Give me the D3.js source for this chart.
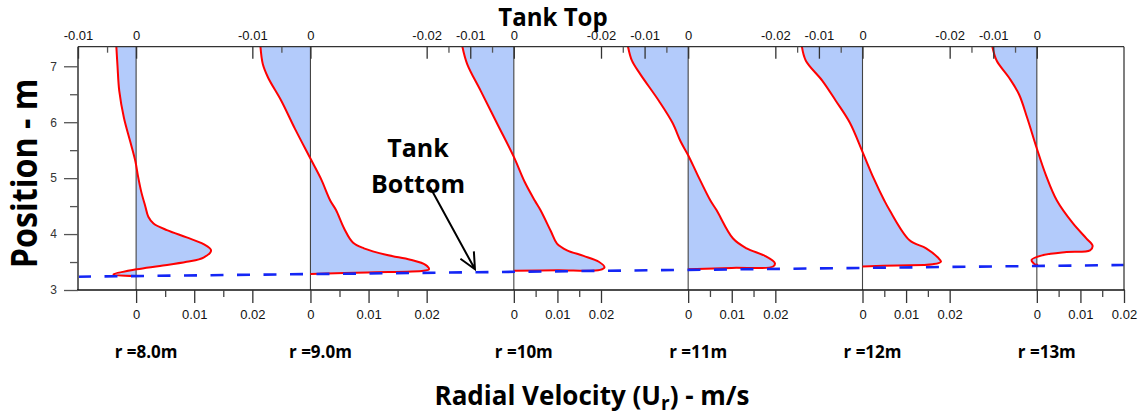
<!DOCTYPE html>
<html>
<head>
<meta charset="utf-8">
<script src="https://cdn.jsdelivr.net/npm/d3@7"></script>
<style>
  html, body { margin: 0; padding: 0; background: #fff; }
  svg { display: block; }
</style>
</head>
<body>
<svg id="chart" width="1139" height="415"></svg>
<script>
// Radial velocity profiles, one per radius: [position (m), Ur (m/s)], tank top to bottom
const profileR8 = [
  [7.35, -0.0034], [7.0, -0.0032], [6.56, -0.0029], [6.08, -0.0021], [5.65, -0.0010],
  [5.29, -0.0001], [5.05, 0.0003], [4.75, 0.0009], [4.49, 0.0016], [4.31, 0.0021],
  [4.19, 0.0030], [4.07, 0.0053], [3.94, 0.0087], [3.82, 0.0116], [3.71, 0.0129],
  [3.58, 0.0116], [3.505, 0.0087], [3.43, 0.0041], [3.37, 0.0001], [3.28, -0.0039],
  [3.25, -0.0002]
];
const profileR9 = [
  [7.35, -0.0086], [7.04, -0.0082], [6.80, -0.0073], [6.38, -0.0050], [5.89, -0.0027],
  [5.35, 0.0000], [4.99, 0.0018], [4.60, 0.0034], [4.43, 0.0044], [4.10, 0.0058],
  [3.85, 0.0073], [3.745, 0.0092], [3.625, 0.0132], [3.54, 0.0172], [3.45, 0.0198],
  [3.37, 0.0204], [3.345, 0.0195], [3.315, 0.0098], [3.285, 0.0000]
];
const profileR10 = [
  [7.35, -0.0118], [7.04, -0.0107], [6.56, -0.0076], [5.955, -0.0037], [5.38, 0.0000],
  [4.93, 0.0025], [4.60, 0.0048], [4.43, 0.0061], [4.05, 0.0085], [3.83, 0.0099],
  [3.71, 0.0122], [3.61, 0.0160], [3.505, 0.0195], [3.405, 0.0208], [3.36, 0.0198],
  [3.352, 0.0100], [3.345, 0.0000]
];
const profileR11 = [
  [7.35, -0.0138], [7.10, -0.0129], [6.86, -0.0110], [6.38, -0.0067], [5.99, -0.0036],
  [5.65, -0.0017], [5.41, 0.0000], [5.05, 0.0022], [4.60, 0.0051], [4.43, 0.0065],
  [3.92, 0.0103], [3.745, 0.0134], [3.61, 0.0176], [3.48, 0.0199], [3.42, 0.0195],
  [3.395, 0.0100], [3.37, 0.0000]
];
const profileR12 = [
  [7.35, -0.0139], [7.10, -0.0130], [6.74, -0.0092], [6.38, -0.0061], [5.99, -0.0029],
  [5.47, 0.0000], [4.99, 0.0026], [4.60, 0.0050], [4.43, 0.0062], [3.89, 0.0108],
  [3.745, 0.0146], [3.58, 0.0173], [3.505, 0.0180], [3.46, 0.0161], [3.44, 0.0080],
  [3.42, 0.0000]
];
const profileR13 = [
  [7.35, -0.0102], [7.10, -0.0092], [6.80, -0.0064], [6.50, -0.0041], [6.075, -0.0022],
  [5.53, 0.0000], [5.05, 0.0021], [4.60, 0.0046], [4.19, 0.0083], [3.92, 0.0114],
  [3.79, 0.0128], [3.71, 0.0122], [3.68, 0.0068], [3.625, 0.0015], [3.54, -0.0012],
  [3.46, -0.0005], [3.45, 0.0003]
];
const profiles = [profileR8, profileR9, profileR10, profileR11, profileR12, profileR13];

const radiusLabels = ["r =8.0m", "r =9.0m", "r =10m", "r =11m", "r =12m", "r =13m"];
// velocity range covered by each radius column
const panelRanges = [[-0.01, 0.02], [-0.01, 0.02], [-0.02, 0.02], [-0.02, 0.02], [-0.02, 0.02], [-0.02, 0.02]];
const topTicks = [-0.02, -0.01, 0];
const topMinorTicks = [-0.015, -0.005];
const bottomTicks = [0, 0.01, 0.02];
const bottomMinorTicks = [0.005, 0.015];
const positionTicks = [3, 4, 5, 6, 7];
const positionMinorTicks = [3.5, 4.5, 5.5, 6.5];
const positionRange = [3, 7.35];
// sloping tank floor: height at the left and right edge of the plot
const tankFloor = [3.238, 3.447];

const svg = d3.select("#chart");
const plotLeft = 78, plotRight = 1124, plotTop = 46.7, plotBottom = 290;
const tickFont = '"Liberation Sans", Arial, sans-serif';
const boldFont = '"Open Sans", "Noto Sans", sans-serif';

const y = d3.scaleLinear().domain(positionRange).range([plotBottom, plotTop]);
// column index scale across the whole plot
const cols = d3.scaleLinear().domain([0, profiles.length]).range([plotLeft, plotRight]);
const xScales = panelRanges.map((r, i) =>
  d3.scaleLinear().domain(r).range([cols(i), cols(i + 1)]));

const plot = svg.append("g");

// shaded profiles
const curveGen = (xs) => d3.line()
  .x(d => xs(d[1]))
  .y(d => y(d[0]))
  .curve(d3.curveCatmullRom.alpha(0.5));

profiles.forEach((p, i) => {
  const xs = xScales[i];
  const first = p[0], last = p[p.length - 1];
  const d = curveGen(xs)(p) +
    "L" + xs(0) + "," + y(last[0]) +
    "L" + xs(0) + "," + y(first[0]) + "Z";
  plot.append("path").attr("d", d)
    .attr("fill", "#b3cbfb").attr("stroke", "none");
});

// zero lines of each column
xScales.forEach(xs => {
  plot.append("line")
    .attr("x1", xs(0)).attr("x2", xs(0))
    .attr("y1", plotTop).attr("y2", plotBottom)
    .attr("stroke", "#444").attr("stroke-width", 1.1);
});

// profile outlines
profiles.forEach((p, i) => {
  plot.append("path").attr("d", curveGen(xScales[i])(p))
    .attr("fill", "none").attr("stroke", "#ff0000")
    .attr("stroke-width", 2).attr("stroke-linejoin", "round");
});

// tank floor
plot.append("line")
  .attr("x1", cols(0)).attr("y1", y(tankFloor[0]))
  .attr("x2", cols(profiles.length)).attr("y2", y(tankFloor[1]))
  .attr("stroke", "#1426f5").attr("stroke-width", 2.6)
  .attr("stroke-dasharray", "13,13.5");

// frame
plot.append("line").attr("x1", plotLeft).attr("x2", plotLeft).attr("y1", plotTop).attr("y2", plotBottom)
  .attr("stroke", "#666").attr("stroke-width", 2);
plot.append("line").attr("x1", plotRight).attr("x2", plotRight).attr("y1", plotTop).attr("y2", plotBottom)
  .attr("stroke", "#555").attr("stroke-width", 1.5);
plot.append("line").attr("x1", plotLeft).attr("x2", plotRight).attr("y1", plotTop).attr("y2", plotTop)
  .attr("stroke", "#333").attr("stroke-width", 1.2);
plot.append("line").attr("x1", plotLeft - 1).attr("x2", plotRight + 0.7).attr("y1", plotBottom).attr("y2", plotBottom)
  .attr("stroke", "#111").attr("stroke-width", 1.5);

function styleAxis(g, color) {
  g.select(".domain").remove();
  g.selectAll(".tick line").attr("stroke", color).attr("stroke-width", 1.3);
  g.selectAll(".tick text").attr("fill", "#111")
    .style("font-family", tickFont).style("font-size", "13px");
}
const fmt = d => (d === 0 ? "0" : String(d));

// per-column axes
xScales.forEach(xs => {
  const [lo, hi] = xs.domain();
  const inDom = v => v >= lo - 1e-9 && v <= hi + 1e-9;

  const gt = svg.append("g").attr("transform", `translate(0,${plotTop})`)
    .call(d3.axisTop(xs).tickValues(topTicks.filter(inDom))
      .tickSizeInner(-12).tickSizeOuter(0).tickPadding(7).tickFormat(fmt));
  styleAxis(gt, "#333");
  const gtm = svg.append("g").attr("transform", `translate(0,${plotTop})`)
    .call(d3.axisTop(xs).tickValues(topMinorTicks.filter(inDom))
      .tickSizeInner(-6).tickSizeOuter(0).tickFormat(""));
  styleAxis(gtm, "#555");

  const gb = svg.append("g").attr("transform", `translate(0,${plotBottom})`)
    .call(d3.axisBottom(xs).tickValues(bottomTicks.filter(inDom))
      .tickSizeInner(13).tickSizeOuter(0).tickPadding(7).tickFormat(fmt));
  styleAxis(gb, "#333");
  const gbm = svg.append("g").attr("transform", `translate(0,${plotBottom})`)
    .call(d3.axisBottom(xs).tickValues(bottomMinorTicks.filter(inDom))
      .tickSizeInner(7).tickSizeOuter(0).tickFormat(""));
  styleAxis(gbm, "#444");
});

// position axis
const gl = svg.append("g").attr("transform", `translate(${plotLeft},0)`)
  .call(d3.axisLeft(y).tickValues(positionTicks).tickSizeInner(14)
    .tickSizeOuter(0).tickPadding(7).tickFormat(d3.format("d")));
styleAxis(gl, "#555");
gl.selectAll(".tick text").attr("fill", "#333").style("font-size", "12px");
const glm = svg.append("g").attr("transform", `translate(${plotLeft},0)`)
  .call(d3.axisLeft(y).tickValues(positionMinorTicks).tickSizeInner(8)
    .tickSizeOuter(0).tickFormat(""));
styleAxis(glm, "#555");

// radius captions under each column
radiusLabels.forEach((t, i) => {
  svg.append("text")
    .attr("x", xScales[i](0) + 10).attr("y", 358)
    .attr("text-anchor", "middle")
    .style("font-family", boldFont).style("font-weight", 700).style("font-size", "17px")
    .attr("fill", "#000").text(t);
});

// titles
svg.append("text")
  .attr("transform", "translate(553,26) scale(0.98,1)")
  .attr("text-anchor", "middle")
  .style("font-family", boldFont).style("font-weight", 700).style("font-size", "24.5px")
  .text("Tank Top");

svg.append("text")
  .attr("transform", "translate(37,173.5) rotate(-90) scale(0.92,1)")
  .attr("text-anchor", "middle")
  .style("font-family", boldFont).style("font-weight", 700).style("font-size", "35px")
  .text("Position - m");

const xt = svg.append("text")
  .attr("transform", "translate(592,405)")
  .attr("text-anchor", "middle")
  .style("font-family", boldFont).style("font-weight", 700).style("font-size", "26px");
xt.append("tspan").text("Radial Velocity (U");
xt.append("tspan").attr("dy", 5).style("font-size", "19px").text("r");
xt.append("tspan").attr("dy", -5).text(") - m/s");

// tank bottom annotation
const note = svg.append("text")
  .attr("text-anchor", "middle")
  .style("font-family", boldFont).style("font-weight", 700).style("font-size", "25px");
note.append("tspan").attr("x", 418).attr("y", 156.5).text("Tank");
note.append("tspan").attr("x", 418).attr("y", 193).text("Bottom");

const tipX = cols(2.277), tipY = y(3.37);
const tailX = cols(2.019), tailY = y(4.84);
const ang = Math.atan2(tipY - tailY, tipX - tailX);
const headLen = 18, spread = 0.44;
const arrowPath = d3.path();
arrowPath.moveTo(tailX, tailY);
arrowPath.lineTo(tipX, tipY);
arrowPath.moveTo(tipX - headLen * Math.cos(ang - spread), tipY - headLen * Math.sin(ang - spread));
arrowPath.lineTo(tipX, tipY);
arrowPath.lineTo(tipX - headLen * Math.cos(ang + spread), tipY - headLen * Math.sin(ang + spread));
svg.append("path").attr("d", arrowPath.toString())
  .attr("fill", "none").attr("stroke", "#000").attr("stroke-width", 2)
  .attr("stroke-linejoin", "miter");
</script>
</body>
</html>
